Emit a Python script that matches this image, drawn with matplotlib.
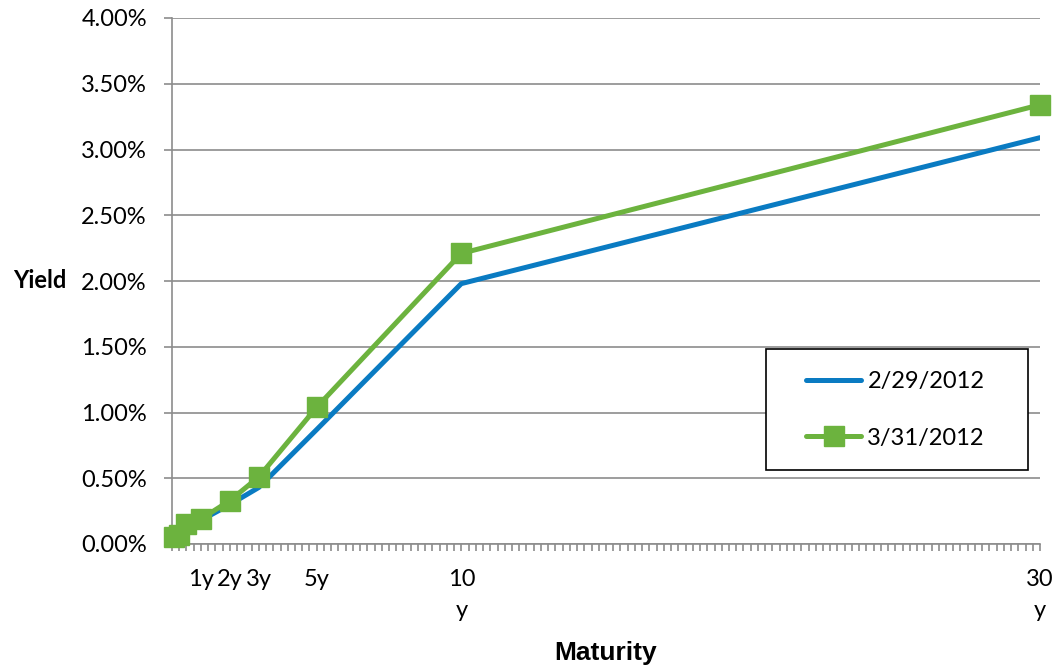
import numpy as np
from matplotlib import pyplot as plt
from matplotlib.patches import Rectangle
from matplotlib.ticker import MultipleLocator, FuncFormatter

# maturities in years: 1m, 3m, 6m, 1y, 2y, 3y, 5y, 10y, 30y
maturity = [1/12, 0.25, 0.5, 1, 2, 3, 5, 10, 30]
yield_feb = [0.08, 0.08, 0.13, 0.18, 0.30, 0.43, 0.87, 1.98, 3.09]
yield_mar = [0.05, 0.07, 0.15, 0.19, 0.33, 0.51, 1.04, 2.21, 3.34]

tick_pos = [1, 2, 3, 5, 10, 30]
tick_labels = ["1y", "2y", "3y", "5y", "10\ny", "30\ny"]

plt.rcParams['font.family'] = ['Lato', 'DejaVu Sans']
grey = '#8c8c8c'

fig = plt.figure(figsize=(10.53, 6.68), dpi=100)
ax = fig.add_axes([172/1053, 1 - 544/668, (1040-172)/1053, (544-18)/668])

ax.plot(maturity, yield_feb, color='#0a7bc2', lw=3.6, label='2/29/2012',
        solid_capstyle='round', zorder=3)
ax.plot(maturity, yield_mar, color='#6cb33e', lw=3.6, marker='s', ms=14,
        label='3/31/2012', solid_capstyle='round', zorder=4, clip_on=False)

ax.set_xlim(0, 30)
ax.set_ylim(0, 4)
ax.yaxis.set_major_locator(MultipleLocator(0.5))
ax.yaxis.set_major_formatter(FuncFormatter(lambda v, p: '%.2f%%' % v))
ax.grid(axis='y', color=grey, lw=1.2)
ax.set_axisbelow(True)

ax.set_xticks(tick_pos)
ax.set_xticklabels(tick_labels)
ax.xaxis.set_minor_locator(MultipleLocator(0.25))
ax.tick_params(axis='x', which='both', direction='out', length=5, color=grey,
               width=1.2, labelsize=17, pad=13)
ax.tick_params(axis='y', direction='out', length=6, color=grey, width=1.2,
               labelsize=17, pad=12)
for t in ax.get_xticklabels():
    t.set_linespacing(1.6)

for s in ['top', 'right']:
    ax.spines[s].set_visible(False)
for s in ['left', 'bottom']:
    ax.spines[s].set_color(grey)
    ax.spines[s].set_linewidth(1.2)

ax.set_xlabel('Maturity', fontsize=19, fontweight='bold',
              family='Liberation Sans', labelpad=14)
ax.set_ylabel('Yield', fontsize=17, fontweight='bold', rotation=0,
              ha='right', va='center')
ax.yaxis.set_label_coords(-0.122, 0.5)

# legend frame
ax.add_patch(Rectangle(((766-172)/868, (544-470)/526), 262/868, 121/526,
                       transform=ax.transAxes, facecolor='white',
                       edgecolor='black', lw=1.2, zorder=5, clip_on=False))
leg = ax.legend(loc='center left', bbox_to_anchor=((806-172)/868, (544-410)/526),
                frameon=False, fontsize=17, handlelength=2.35,
                handletextpad=0.25, labelspacing=1.5,
                borderpad=0, borderaxespad=0)
leg.set_zorder(6)

plt.savefig('out.png', dpi=100)
